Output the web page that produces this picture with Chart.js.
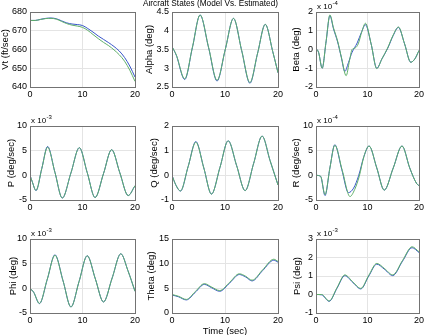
<!DOCTYPE html>
<html>
  <head>
    <title>Aircraft States (Model Vs. Estimated)</title>

    <script src="https://cdn.jsdelivr.net/npm/chart.js@4.4.0/dist/chart.umd.min.js"></script>

    <style>
      html, body { margin: 0; padding: 0; background: #fff; overflow: hidden; }
      #fig { position: relative; width: 425px; height: 335px; overflow: hidden; }
      #fig canvas { position: absolute; }
    </style>
  </head>
  <body>
    <div id="fig"></div>

    <script type="text/javascript">

      // time (sec) and values; Beta/R in 1e-4, P/Phi/Psi in 1e-3
      const vtTime  = [0, 1, 2, 3, 4, 5, 6, 7, 8, 9, 10, 11, 12, 13, 14, 15, 16, 17, 18, 19, 20];
      const vtModel = [675.5, 675.5, 676.1, 676.6, 676.8, 676.4, 675.3, 674.2, 673.6, 673.3, 672.8, 671.2, 669.3, 667.2, 665.4, 663.6, 661.6, 659.2, 655.8, 651.2, 645.3];
      const vtEst   = [675.5, 675.5, 676.0, 676.5, 676.6, 676.2, 675.0, 673.8, 673.0, 672.5, 671.8, 670.2, 668.0, 665.8, 663.8, 662.0, 659.8, 657.2, 653.8, 649.0, 643.0];

      const alphaTime  = [0, 0.8, 2.4, 3.85, 5.3, 6.9, 8.5, 10.05, 11.6, 13.15, 14.7, 16.15, 17.6, 19.0, 20];
      const alphaModel = [3.58, 3.35, 2.70, 3.55, 4.42, 3.55, 2.66, 3.50, 4.33, 3.47, 2.60, 3.40, 4.17, 3.45, 2.88];
      const alphaEst   = [3.58, 3.36, 2.72, 3.56, 4.42, 3.56, 2.68, 3.50, 4.33, 3.47, 2.62, 3.40, 4.17, 3.45, 2.88];

      const betaTimeM = [0, 0.5, 1.2, 1.95, 2.7, 3.4, 4.2, 4.9, 5.6, 6.3, 7.0, 8.0, 8.8, 9.6, 10.7, 11.8, 12.8, 13.9, 15.0, 16.0, 17.2, 18.4, 19.2, 20];
      const betaModel = [0.05, -0.15, -1.0, 0.4, 1.8, 1.1, 0.4, -0.4, -1.17, -0.7, -0.15, 0.35, 0.9, 1.32, 0.3, -1.0, -0.5, 0.05, 0.75, 1.18, 0.3, -0.68, -0.5, -0.05];
      const betaTimeE = [0, 0.5, 1.2, 1.95, 2.7, 3.4, 4.2, 5.0, 5.85, 6.5, 7.0, 7.6, 8.2, 8.9, 9.6, 10.7, 11.8, 12.8, 13.9, 15.0, 16.0, 17.2, 18.4, 19.2, 20];
      const betaEst   = [0.05, -0.15, -1.0, 0.42, 1.85, 1.15, 0.45, -0.5, -1.4, -0.6, 0.0, 0.08, 0.3, 0.95, 1.4, 0.3, -1.02, -0.5, 0.08, 0.78, 1.2, 0.3, -0.68, -0.5, -0.05];

      const pTime  = [0, 0.4, 1.15, 2.25, 3.35, 4.75, 6.15, 7.8, 9.4, 10.9, 12.4, 14.0, 15.55, 17.1, 18.7, 20];
      const pModel = [0, -1.2, -3.1, 1.4, 5.85, 0.6, -4.6, 0.5, 5.6, 0.55, -4.5, 0.35, 5.2, 0.55, -4.1, -2.1];
      const pEst   = [0, -1.2, -3.05, 1.4, 5.7, 0.6, -4.6, 0.5, 5.6, 0.55, -4.5, 0.35, 5.2, 0.55, -4.1, -2.1];

      const qTime  = [0, 0.7, 1.6, 3.05, 4.5, 6.0, 7.45, 9.05, 10.6, 12.2, 13.8, 15.4, 17.0, 18.5, 20];
      const qModel = [0, -0.38, -0.64, 0.36, 1.37, 0.3, -0.76, 0.32, 1.4, 0.39, -0.62, 0.48, 1.59, 0.6, -0.39];
      const qEst   = [0, -0.38, -0.63, 0.36, 1.34, 0.3, -0.76, 0.32, 1.4, 0.39, -0.62, 0.48, 1.59, 0.6, -0.39];

      const rTimeM = [0, 0.9, 1.75, 2.7, 3.65, 5.0, 6.3, 7.3, 8.3, 9.3, 10.3, 11.8, 13.25, 15.0, 16.7, 18.2, 19.5, 20];
      const rModel = [0, -0.2, -4.1, 1.5, 6.2, 1.2, -3.5, -2.6, 0.0, 3.8, 5.95, 1.5, -3.0, 1.5, 5.95, 1.5, -1.6, -2.1];
      const rTimeE = [0, 0.9, 1.75, 2.7, 3.65, 5.1, 6.6, 7.5, 8.4, 9.3, 10.3, 11.8, 13.25, 15.0, 16.7, 18.2, 19.5, 20];
      const rEst   = [0, -0.2, -3.9, 1.5, 6.1, 1.0, -4.3, -2.9, -0.2, 3.8, 5.95, 1.5, -3.0, 1.5, 5.95, 1.5, -1.6, -2.1];

      const phiTime  = [0, 0.7, 1.8, 3.3, 4.75, 6.3, 7.8, 9.35, 10.9, 12.45, 14.0, 15.65, 17.3, 18.65, 20];
      const phiModel = [0, -0.8, -3.1, 1.85, 6.8, 1.5, -3.77, 1.4, 6.6, 1.9, -2.76, 2.1, 7.0, 3.6, -0.6];
      const phiEst   = [0, -0.8, -3.05, 1.9, 6.7, 1.5, -3.77, 1.4, 6.6, 1.9, -2.76, 2.1, 7.0, 3.6, -0.6];

      const thetaTime  = [0, 1.2, 2.7, 4.4, 6.1, 7.5, 9.0, 10.9, 12.7, 13.9, 15.1, 17.1, 19.2, 20];
      const thetaModel = [3.65, 3.3, 2.65, 4.2, 5.8, 5.1, 4.4, 6.1, 7.8, 7.3, 6.5, 8.6, 10.7, 10.3];
      const thetaEst   = [3.75, 3.4, 2.75, 4.35, 5.95, 5.25, 4.55, 6.25, 7.95, 7.45, 6.65, 8.75, 10.9, 10.45];

      const psiTime  = [0, 1.1, 2.55, 4.1, 5.6, 7.15, 8.7, 10.25, 11.8, 13.35, 14.9, 16.8, 18.65, 20];
      const psiModel = [0, -0.02, -0.37, 0.35, 1.02, 0.65, 0.3, 1.0, 1.64, 1.35, 1.02, 1.8, 2.53, 2.27];
      const psiEst   = [0, 0.0, -0.35, 0.38, 1.06, 0.68, 0.33, 1.04, 1.68, 1.39, 1.06, 1.84, 2.58, 2.31];

      const timeTicks = [0, 10, 20];

      const FONT = "'Liberation Sans', Arial, Helvetica, sans-serif";
      const BLUE = 'rgb(55, 85, 200)';
      const GREEN = 'rgb(95, 175, 105)';

      // one entry per subplot; box = [left, top, width, height] of the axes in the page
      const panels = [
        { label: 'Vt (ft/sec)',   tm: vtTime,    te: vtTime,    m: vtModel,    e: vtEst,    y: [640, 680, 10],  box: [30, 12, 105, 75],  tx: 5 },
        { label: 'Alpha (deg)',   tm: alphaTime, te: alphaTime, m: alphaModel, e: alphaEst, y: [2.5, 4.5, 0.5], box: [172, 12, 106, 75], tx: 149,
          title: 'Aircraft States (Model Vs. Estimated)' },
        { label: 'Beta (deg)',    tm: betaTimeM, te: betaTimeE, m: betaModel,  e: betaEst,  y: [-2, 2, 1],      box: [316, 12, 103, 75], tx: 296, exp: '-4' },
        { label: 'P (deg/sec)',   tm: pTime,     te: pTime,     m: pModel,     e: pEst,     y: [-5, 10, 5],     box: [30, 126, 105, 74], tx: 11, exp: '-3' },
        { label: 'Q (deg/sec)',   tm: qTime,     te: qTime,     m: qModel,     e: qEst,     y: [-1, 2, 1],      box: [172, 126, 106, 74], tx: 154 },
        { label: 'R (deg/sec)',   tm: rTimeM,    te: rTimeE,    m: rModel,     e: rEst,     y: [-5, 10, 5],     box: [316, 126, 103, 74], tx: 296, exp: '-4' },
        { label: 'Phi (deg)',     tm: phiTime,   te: phiTime,   m: phiModel,   e: phiEst,   y: [-5, 10, 5],     box: [30, 239, 105, 74], tx: 13, exp: '-3' },
        { label: 'Theta (deg)',   tm: thetaTime, te: thetaTime, m: thetaModel, e: thetaEst, y: [0, 15, 5],      box: [172, 239, 106, 74], tx: 151,
          xTitle: 'Time (sec)' },
        { label: 'Psi (deg)',     tm: psiTime,   te: psiTime,   m: psiModel,   e: psiEst,   y: [-1, 3, 1],      box: [316, 239, 103, 74], tx: 297, exp: '-3' }
      ];

      // matlab style box round the axes
      const boxPlugin = {
        id: 'matlabBox',
        afterDraw(chart) {
          const { ctx, chartArea: a } = chart;
          ctx.save();
          ctx.strokeStyle = '#737373';
          ctx.lineWidth = 1;
          ctx.strokeRect(Math.round(a.left) + 0.5, Math.round(a.top) + 0.5, Math.round(a.width), Math.round(a.height));
          ctx.restore();
        }
      };

      // "x 10^-n" exponent above the y axis
      const expPlugin = {
        id: 'expLabel',
        afterDraw(chart, args, opts) {
          if (!opts || !opts.exp) return;
          const { ctx, chartArea: a } = chart;
          ctx.save();
          ctx.fillStyle = '#000';
          ctx.textBaseline = 'alphabetic';
          ctx.font = '8px ' + FONT;
          ctx.fillText('x 10', a.left + 1, a.top - 3);
          const w = ctx.measureText('x 10').width;
          ctx.font = '6px ' + FONT;
          ctx.fillText(opts.exp, a.left + 1.5 + w, a.top - 7);
          ctx.restore();
        }
      };

      const fmt = (v) => String(+v.toFixed(6));
      const toXY = (ts, vs) => vs.map((v, i) => ({ x: ts[i], y: v }));

      const fig = document.getElementById('fig');

      panels.forEach((p) => {
        const [L, T, W, H] = p.box;
        const left = p.tx - 6;
        const yw = L - left;
        const padTop = p.title ? 15 : 14;
        const xh = p.xTitle ? 24 : 20;
        let padRight = 10;
        if (p.title) padRight = 2 * (L + W / 2 - left) - yw - W;

        const canvas = document.createElement('canvas');
        canvas.width = yw + W + padRight;
        canvas.height = padTop + H + xh;
        canvas.style.left = left + 'px';
        canvas.style.top = (T - padTop) + 'px';
        canvas.style.width = canvas.width + 'px';
        canvas.style.height = canvas.height + 'px';
        fig.appendChild(canvas);

        new Chart(canvas, {
          type: 'line',
          data: {
            datasets: [
              { label: 'Model', data: toXY(p.tm, p.m), borderColor: BLUE, borderWidth: 1, pointRadius: 0,
                cubicInterpolationMode: 'monotone', fill: false, order: 1 },
              { label: 'Estimated', data: toXY(p.te, p.e), borderColor: GREEN, borderWidth: 1, pointRadius: 0,
                cubicInterpolationMode: 'monotone', fill: false, order: 0 }
            ]
          },
          options: {
            responsive: false,
            animation: false,
            devicePixelRatio: 1,
            layout: { padding: { left: 0, top: p.title ? 0 : padTop, right: padRight, bottom: 0 } },
            plugins: {
              legend: { display: false },
              tooltip: { enabled: false },
              title: {
                display: !!p.title,
                text: p.title || '',
                color: '#000',
                font: { family: FONT, size: 9.5, weight: 'normal', lineHeight: '12px' },
                padding: { top: 0, bottom: 3 }
              },
              expLabel: { exp: p.exp || '' }
            },
            scales: {
              x: {
                type: 'linear',
                min: 0,
                max: 20,
                afterBuildTicks: (s) => { s.ticks = timeTicks.map((v) => ({ value: v })); },
                ticks: { color: '#000', font: { family: FONT, size: 9 }, padding: 2, maxRotation: 0, callback: fmt },
                grid: { color: '#e4e4e4', drawTicks: false },
                border: { display: false },
                title: {
                  display: !!p.xTitle,
                  text: p.xTitle || '',
                  color: '#000',
                  font: { family: FONT, size: 9.5, lineHeight: '12px' },
                  padding: 0
                },
                afterFit: (s) => { s.height = xh; }
              },
              y: {
                type: 'linear',
                min: p.y[0],
                max: p.y[1],
                ticks: { stepSize: p.y[2], color: '#000', font: { family: FONT, size: 9 }, padding: 3, callback: fmt },
                grid: { color: '#e4e4e4', drawTicks: false },
                border: { display: false },
                title: {
                  display: true,
                  text: p.label,
                  color: '#000',
                  font: { family: FONT, size: 9.5, lineHeight: '12px' },
                  padding: 0
                },
                afterFit: (s) => { s.width = yw; }
              }
            }
          },
          plugins: [boxPlugin, expPlugin]
        });
      });

    </script>
  </body>
</html>
